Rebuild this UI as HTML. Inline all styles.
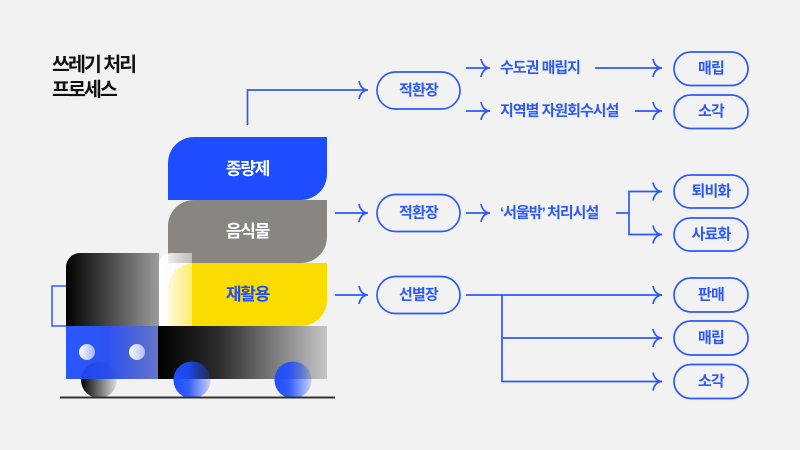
<!DOCTYPE html>
<html>
<head>
<meta charset="utf-8">
<style>
  html,body{margin:0;padding:0;background:#f2f2f2;}
  svg{display:block;}
  text{font-family:"Liberation Sans","Noto Sans CJK KR",sans-serif;}
</style>
</head>
<body>
<svg width="800" height="450" viewBox="0 0 800 450" xmlns="http://www.w3.org/2000/svg">
  <defs>
    <linearGradient id="cabG" gradientUnits="userSpaceOnUse" x1="66" y1="0" x2="159" y2="0">
      <stop offset="0" stop-color="#000"/>
      <stop offset="1" stop-color="#9c9c9c"/>
    </linearGradient>
    <linearGradient id="ovG" gradientUnits="userSpaceOnUse" x1="159" y1="0" x2="192" y2="0">
      <stop offset="0" stop-color="#fff" stop-opacity="1"/>
      <stop offset="1" stop-color="#fff" stop-opacity="0.45"/>
    </linearGradient>
    <linearGradient id="bodyG" gradientUnits="userSpaceOnUse" x1="158" y1="0" x2="327" y2="0">
      <stop offset="0" stop-color="#000"/>
      <stop offset="0.35" stop-color="#2a2a2a"/>
      <stop offset="1" stop-color="#c6c6c6"/>
    </linearGradient>
    <linearGradient id="blueBodyG" gradientUnits="userSpaceOnUse" x1="66" y1="0" x2="158" y2="0">
      <stop offset="0" stop-color="#1e4dff"/>
      <stop offset="0.45" stop-color="#2148f0"/>
      <stop offset="1" stop-color="#5a6cc4"/>
    </linearGradient>
    <linearGradient id="fwG" x1="0" y1="0" x2="1" y2="0">
      <stop offset="0" stop-color="#000"/>
      <stop offset="1" stop-color="#dedede"/>
    </linearGradient>
    <linearGradient id="wG" x1="0" y1="0" x2="1" y2="0">
      <stop offset="0" stop-color="#1e4dff" stop-opacity="1"/>
      <stop offset="0.4" stop-color="#1e4dff" stop-opacity="0.9"/>
      <stop offset="1" stop-color="#1e4dff" stop-opacity="0.2"/>
    </linearGradient>
    <linearGradient id="lG" x1="0" y1="0" x2="1" y2="0">
      <stop offset="0" stop-color="#fff" stop-opacity="1"/>
      <stop offset="1" stop-color="#fff" stop-opacity="0.55"/>
    </linearGradient>
  </defs>

  <!-- Title -->
  <text x="52" y="71" font-size="19.5" font-weight="700" fill="#111" letter-spacing="-2">쓰레기 처리</text>
  <text x="52" y="96" font-size="19.5" font-weight="700" fill="#111" letter-spacing="-2">프로세스</text>

  <!-- Stacked blocks -->
  <path d="M168,200 L168,163 A26,26 0 0 1 194,137 L327,137 L327,174 A26,26 0 0 1 301,200 Z" fill="#1e4dff"/>
  <path d="M168,263 L168,226 A26,26 0 0 1 194,200 L327,200 L327,237 A26,26 0 0 1 301,263 Z" fill="#878681"/>
  <path d="M168,326 L168,289 A26,26 0 0 1 194,263 L327,263 L327,300 A26,26 0 0 1 301,326 Z" fill="#fbdc00"/>

  <text x="247.5" y="169" font-size="17" font-weight="700" fill="#fff" text-anchor="middle" dominant-baseline="central" letter-spacing="-1.2">종량제</text>
  <text x="247.5" y="231.5" font-size="17" font-weight="700" fill="#fff" text-anchor="middle" dominant-baseline="central" letter-spacing="-1.2">음식물</text>
  <text x="247.5" y="294.5" font-size="17" font-weight="700" fill="#1e4dff" text-anchor="middle" dominant-baseline="central" letter-spacing="-1.2">재활용</text>

  <!-- Truck -->
  <rect x="52" y="286" width="22" height="40" fill="none" stroke="#2b59ff" stroke-width="1.5"/>
  <path d="M66,326 L66,267 A14,14 0 0 1 80,253 L159,253 L159,326 Z" fill="url(#cabG)"/>
  <path d="M159,326 L159,265 A12,12 0 0 1 171,253 L192,253 L192,326 Z" fill="url(#ovG)"/>

  <circle cx="99" cy="380" r="18" fill="url(#fwG)"/>
  <rect x="66" y="326" width="92" height="53" fill="url(#blueBodyG)" opacity="0.94"/>
  <rect x="158" y="326" width="169" height="53" fill="url(#bodyG)"/>

  <circle cx="87" cy="352" r="8" fill="url(#lG)"/>
  <circle cx="137" cy="352" r="8" fill="url(#lG)"/>

  <circle cx="192" cy="380" r="18.5" fill="url(#wG)"/>
  <circle cx="293" cy="380" r="18.5" fill="url(#wG)"/>

  <line x1="60" y1="397.5" x2="335" y2="397.5" stroke="#333" stroke-width="2"/>

  <!-- Connectors -->
  <g fill="none" stroke="#2b59ff" stroke-width="1.7" stroke-linejoin="miter">
    <polyline points="247.5,125 247.5,90 367,90"/>
    <path d="M359,81 C360,86 363,90 368,90 C363,90 360,94 359,99"/>

    <line x1="466" y1="68" x2="489" y2="68"/>
    <path d="M481,59 C482,64 485,68 490,68 C485,68 482,72 481,77"/>
    <line x1="466" y1="111" x2="489" y2="111"/>
    <path d="M481,102 C482,107 485,111 490,111 C485,111 482,115 481,120"/>

    <line x1="595" y1="68" x2="661" y2="68"/>
    <path d="M653,59 C654,64 657,68 662,68 C657,68 654,72 653,77"/>
    <line x1="635" y1="111" x2="661" y2="111"/>
    <path d="M653,102 C654,107 657,111 662,111 C657,111 654,115 653,120"/>

    <line x1="335" y1="213" x2="367" y2="213"/>
    <path d="M359,204 C360,209 363,213 368,213 C363,213 360,217 359,222"/>
    <line x1="466" y1="213" x2="489" y2="213"/>
    <path d="M481,204 C482,209 485,213 490,213 C485,213 482,217 481,222"/>

    <line x1="616" y1="213" x2="629" y2="213"/>
    <polyline points="661,191.5 629,191.5 629,234.5 661,234.5"/>
    <path d="M653,182.5 C654,187.5 657,191.5 662,191.5 C657,191.5 654,195.5 653,200.5"/>
    <path d="M653,225.5 C654,230.5 657,234.5 662,234.5 C657,234.5 654,238.5 653,243.5"/>

    <line x1="335" y1="295" x2="367" y2="295"/>
    <path d="M359,286 C360,291 363,295 368,295 C363,295 360,299 359,304"/>
    <line x1="466" y1="295" x2="661" y2="295"/>
    <polyline points="502,295 502,381.5 661,381.5"/>
    <line x1="502" y1="338" x2="661" y2="338"/>
    <path d="M653,286 C654,291 657,295 662,295 C657,295 654,299 653,304"/>
    <path d="M653,329 C654,334 657,338 662,338 C657,338 654,342 653,347"/>
    <path d="M653,372.5 C654,377.5 657,381.5 662,381.5 C657,381.5 654,385.5 653,390.5"/>

    <!-- Nodes -->
    <rect x="377" y="72" width="83" height="37" rx="18.5"/>
    <rect x="377" y="194.5" width="83" height="37" rx="18.5"/>
    <rect x="377" y="276.5" width="83" height="37" rx="18.5"/>

    <rect x="674" y="52" width="74" height="33.5" rx="16.75"/>
    <rect x="674" y="95" width="74" height="33.5" rx="16.75"/>
    <rect x="674" y="175" width="74" height="33" rx="16.5"/>
    <rect x="674" y="218" width="74" height="33" rx="16.5"/>
    <rect x="674" y="278" width="74" height="34" rx="17"/>
    <rect x="674" y="321" width="74" height="34" rx="17"/>
    <rect x="674" y="364.5" width="74" height="34" rx="17"/>
  </g>

  <!-- Node labels -->
  <g fill="#2b59ff" font-size="15" font-weight="700" text-anchor="middle" dominant-baseline="central" letter-spacing="-0.8">
    <text x="418.5" y="90.5">적환장</text>
    <text x="418.5" y="213">적환장</text>
    <text x="418.5" y="295">선별장</text>

    <text x="711" y="68.5">매립</text>
    <text x="711" y="111.5">소각</text>
    <text x="711" y="191.5">퇴비화</text>
    <text x="711" y="234.5">사료화</text>
    <text x="711" y="295">판매</text>
    <text x="711" y="338">매립</text>
    <text x="711" y="381.5">소각</text>
  </g>

  <!-- Flow texts -->
  <g fill="#2b59ff" font-size="15" font-weight="700" dominant-baseline="central" letter-spacing="-1">
    <text x="500" y="68">수도권 매립지</text>
    <text x="500" y="111">지역별 자원회수시설</text>
    <text x="500" y="213">‘서울밖’ 처리시설</text>
  </g>
</svg>
</body>
</html>
